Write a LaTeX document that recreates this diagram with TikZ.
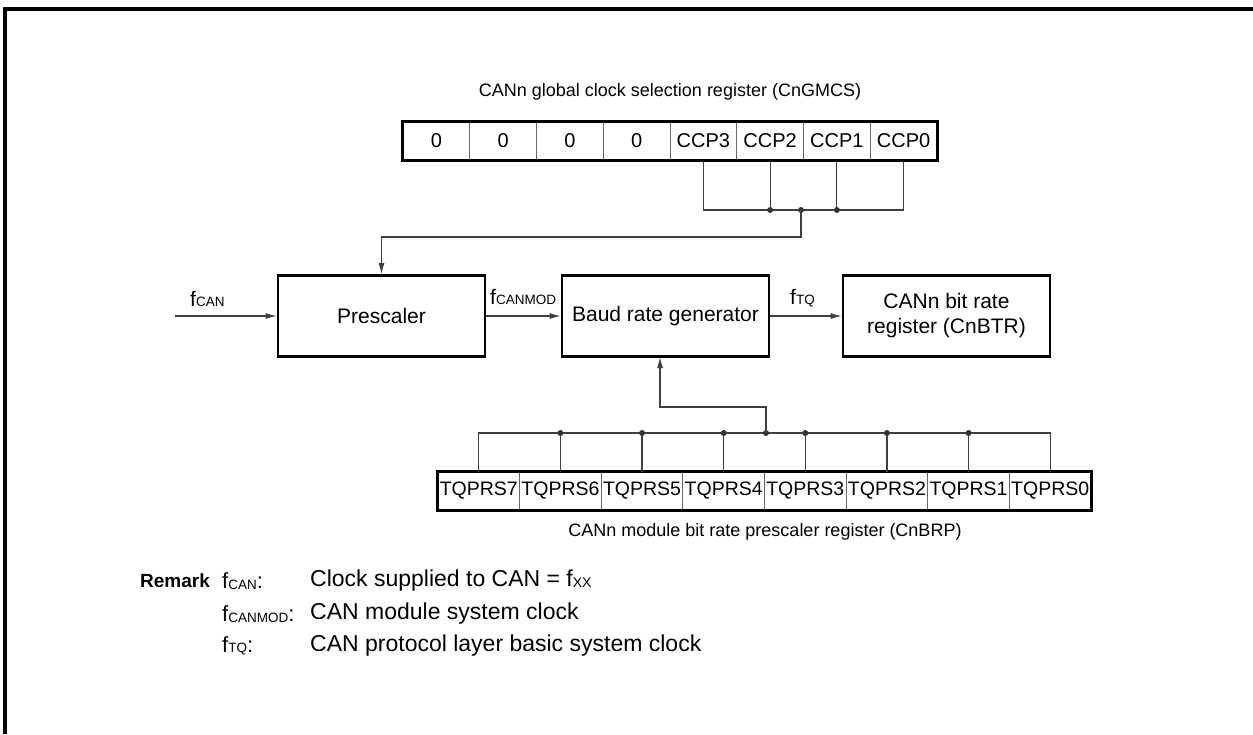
\documentclass[tikz,border=0pt]{standalone}
\usepackage{fontspec}
\setmainfont{Liberation Sans}
\usetikzlibrary{arrows.meta}

\newcommand{\fsub}[2][13.5]{f\raisebox{-0.5pt}{\fontsize{#1}{#1}\selectfont #2}}

\tikzset{
  wire/.style={draw=black!75, line width=1.2pt},
  arr/.style={wire, -{Latex[length=11pt,width=6pt]}},
  blk/.style={draw, line width=2.6pt, minimum width=207pt, minimum height=81pt, align=center, font=\fontsize{21}{25}\selectfont},
  gcell/.style={draw=black!60, line width=1pt, minimum width=66.75pt, minimum height=38pt, inner sep=0pt, font=\fontsize{20}{22}\selectfont},
  tcell/.style={gcell, minimum width=81.625pt, font=\fontsize{19.5}{22}\selectfont},
  regframe/.style={draw, line width=2.6pt},
  dot/.style={circle, fill=black!80, inner sep=0pt, minimum size=6pt},
  lbl/.style={inner sep=0pt, font=\fontsize{18}{20}\selectfont},
  flbl/.style={anchor=base west, inner sep=0pt, font=\fontsize{21}{25}\selectfont},
  rmk/.style={anchor=west, inner sep=0pt, font=\fontsize{23}{27}\selectfont}
}

\begin{document}
\begin{tikzpicture}[x=1pt, y=-1pt]
\useasboundingbox (0,0) rectangle (1253,734);
\draw[line width=4pt] (5,734) -- (5,9) -- (1253,9);

\node[lbl] (gtitle) at (670,92) {CANn global clock selection register (CnGMCS)};
\foreach \t [count=\i] in {0,0,0,0,CCP3,CCP2,CCP1,CCP0}
  \node[gcell] (gm\i) at ({403+66.75*(\i-0.5)},141) {\t};
\draw[regframe] (gm1.north west) rectangle (gm8.south east);

\node[blk] (presc) at (381.5,316) {Prescaler};
\node[blk] (baud) at (665.5,316) {Baud rate generator};
\node[blk] (cnbtr) at (946.5,316) {CANn bit rate\\register (CnBTR)};

\foreach \t [count=\i] in {TQPRS7,TQPRS6,TQPRS5,TQPRS4,TQPRS3,TQPRS2,TQPRS1,TQPRS0}
  \node[tcell] (tq\i) at ({438+81.625*(\i-0.5)},491) {\t};
\draw[regframe] (tq1.north west) rectangle (tq8.south east);
\node[lbl] (tcaption) at (765,532) {CANn module bit rate prescaler register (CnBRP)};

% clock selection bus
\coordinate (gbus) at (801,210);
\coordinate (gbend) at (801,237);
\draw[wire] (gm5.south) |- (gbus) -| (gm8.south);
\draw[wire] (gm6.south) -- (gm6.south |- gbus);
\draw[wire] (gm7.south) -- (gm7.south |- gbus);
\node[dot] (gd6) at (gm6.south |- gbus) {};
\node[dot] (gd7) at (gm7.south |- gbus) {};
\node[dot] (gdj) at (gbus) {};
\draw[arr] (gbus) -- (gbend) -| (presc.north);

% clock path
\coordinate (fin) at (175,316);
\draw[arr] (fin) -- (presc.west);
\draw[arr] (presc.east) -- (baud.west);
\draw[arr] (baud.east) -- (cnbtr.west);
\node[flbl] (lcan) at (190,306) {\fsub{CAN}};
\node[flbl] (lmod) at (490,304) {\fsub{CANMOD}};
\node[flbl] (ltq) at (790,304) {\fsub{TQ}};

% prescaler bus
\coordinate (tbus) at (766,433);
\coordinate (tbend) at (766,407);
\coordinate (tup) at (660,357);
\draw[wire] (tq1.north) |- (tbus) -| (tq8.north);
\foreach \i in {2,...,7} {
  \draw[wire] (tq\i.north) -- (tq\i.north |- tbus);
  \node[dot] (td\i) at (tq\i.north |- tbus) {};
}
\node[dot] (tdj) at (tbus) {};
\draw[arr] (tbus) -- (tbend) -| (tup);

% remark
\node[rmk, font=\fontsize{19}{23}\selectfont\bfseries] (rmk) at (140,581) {Remark};
\node[rmk, font=\fontsize{22}{26}\selectfont] (r1a) at (222,581) {\fsub{CAN}:};
\node[rmk] (r1b) at (310,581) {Clock supplied to CAN = \fsub[14]{XX}};
\node[rmk, font=\fontsize{22}{26}\selectfont] (r2a) at (222,614) {\fsub{CANMOD}:};
\node[rmk] (r2b) at (310,614) {CAN module system clock};
\node[rmk, font=\fontsize{22}{26}\selectfont] (r3a) at (222,646) {\fsub{TQ}:};
\node[rmk] (r3b) at (310,646) {CAN protocol layer basic system clock};
\end{tikzpicture}
\end{document}
